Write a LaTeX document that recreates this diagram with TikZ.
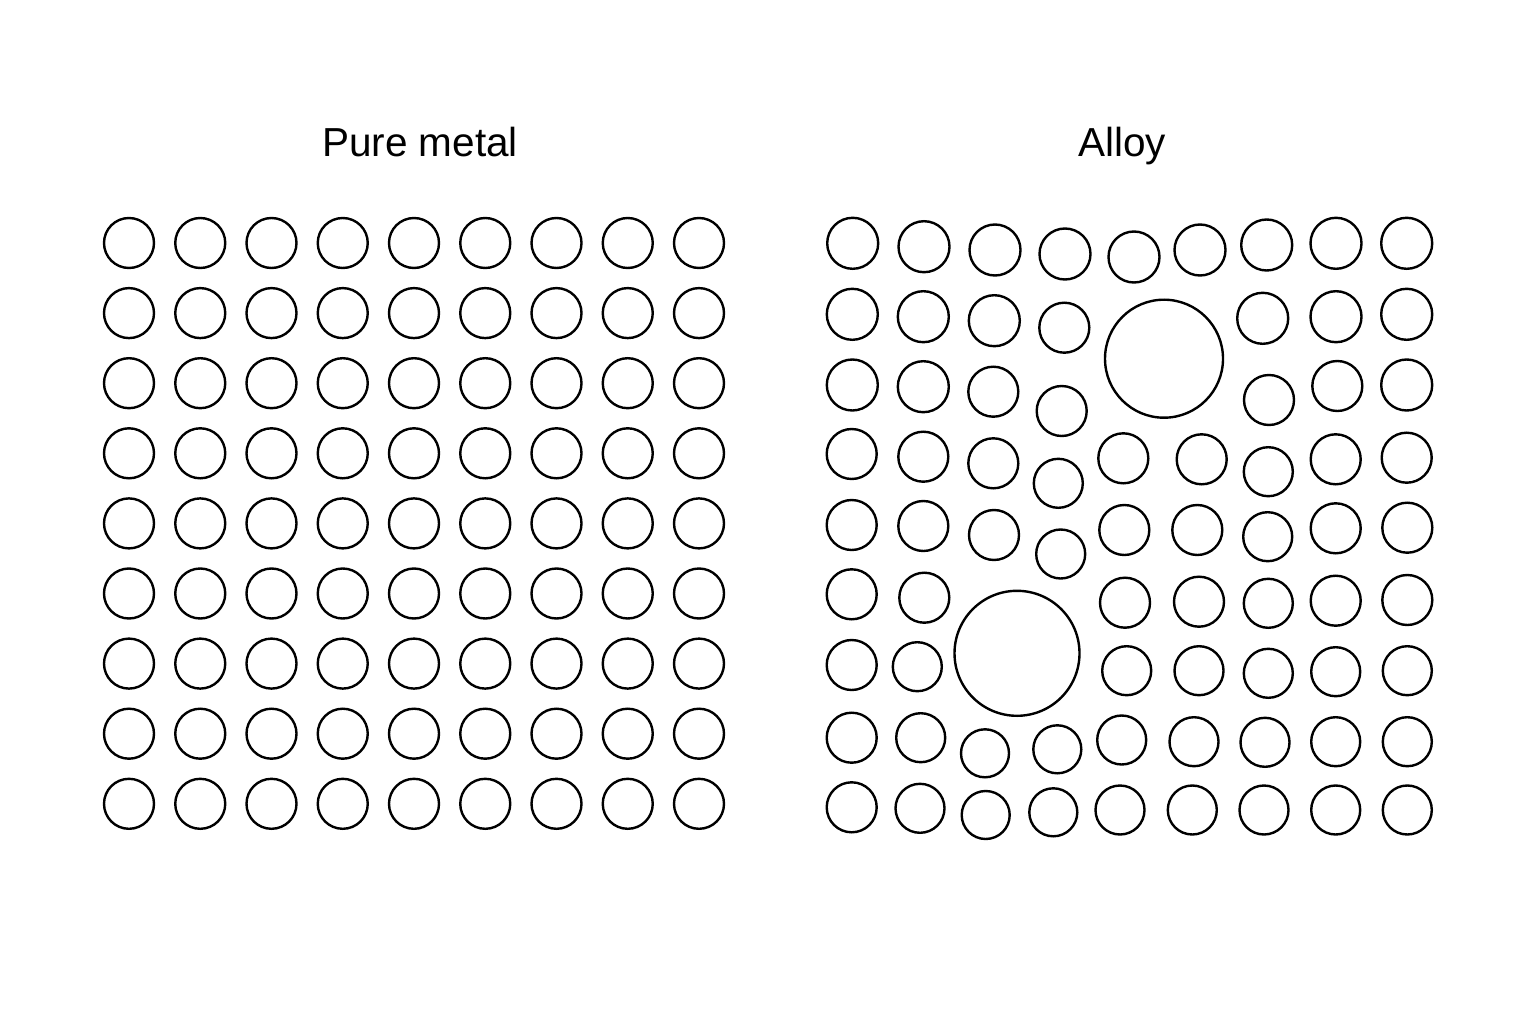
\documentclass[tikz,border=0pt]{standalone}
\usepackage{fontspec}
\setmainfont{Liberation Sans}
\begin{document}
\begin{tikzpicture}[x=1pt,y=-1pt,
  atom/.style={circle,draw=black,line width=2.4pt,inner sep=0pt,minimum size=50pt},
  title/.style={anchor=base,font=\fontsize{40.5}{48}\selectfont}]
\fill[white] (0,0) rectangle (1536,1024);
\useasboundingbox (0,0) rectangle (1536,1024);
\node[title] (t1) at (420,157) {Pure metal};
\node[title] (t2) at (1122,157) {Alloy};
% pure metal grid
\foreach \i in {0,...,8}{
  \foreach \j in {0,...,8}{
    \node[atom] (p-\i-\j) at ({129+71.25*\i},{243+70.1*\j}) {};
  }
}
% alloy
\foreach \x/\y/\r [count=\k] in {
  852.7/243.3/25.5, 924/246.7/25.5, 995/250/25.5, 1065/254/25.5, 1134/257/25.5, 1200/250/25.5, 1266.7/245/25.5, 1336/243.3/25.5, 1406.7/243.3/25.5,
  852.3/314.3/25.5, 923.3/316.7/25.5, 994.3/320.7/25.5, 1064.3/327.7/25, 1262.7/318.3/25.5, 1336/316.7/25.5, 1406.7/314.3/25.5,
  852.3/385/25.5, 923.3/386.7/25.5, 993.3/391.7/25, 1061.7/411/25, 1269/400/25, 1337.3/386/25, 1406.7/385/25.5,
  851.7/454/25, 923.3/456.7/25, 993.3/463.3/25, 1058.3/483.3/24.5, 1123.3/458.3/25, 1201.7/459.3/25, 1268.3/471.7/24.5, 1335.7/459.3/25, 1406.7/457.7/25,
  851.7/525/25, 923.3/526/25, 994/535/25, 1060.7/554/24.5, 1124.3/530/25, 1197.3/530/25, 1267.7/536.7/24.5, 1335.7/528.3/25, 1407.3/527.7/25,
  851.7/594.3/25, 924.3/597.7/25, 1125/602.7/25, 1199/601.7/25, 1268.3/603.3/24.5, 1335.7/600.7/25, 1407.3/600/25,
  851.7/665/25, 917.3/666.7/24.5, 1126.7/670.7/24.5, 1199/670.7/24.5, 1268.3/673.3/24.5, 1335.7/671.7/24.5, 1407.3/670.7/24.5,
  851.7/737.7/25, 920.7/737.7/24.5, 985/753.3/24, 1057.3/749.3/24, 1121.7/740/24.5, 1194/741.7/24.5, 1265/742.3/24.5, 1335.7/741.7/24.5, 1407.3/741.7/24.5,
  851.7/807.3/25, 920/808.3/24.5, 985.7/815/24, 1053.3/812.3/24, 1120/810/24.5, 1192.3/810/24.5, 1264/810/24.5, 1335.7/810/24.5, 1407.3/810/24.5}{
  \node[atom,minimum size={2*\r}] (a-\k) at (\x,\y) {};
}
\node[atom,minimum size=118pt] (big1) at (1164,358.7) {};
\node[atom,minimum size=125pt] (big2) at (1017,653.3) {};
\end{tikzpicture}
\end{document}
